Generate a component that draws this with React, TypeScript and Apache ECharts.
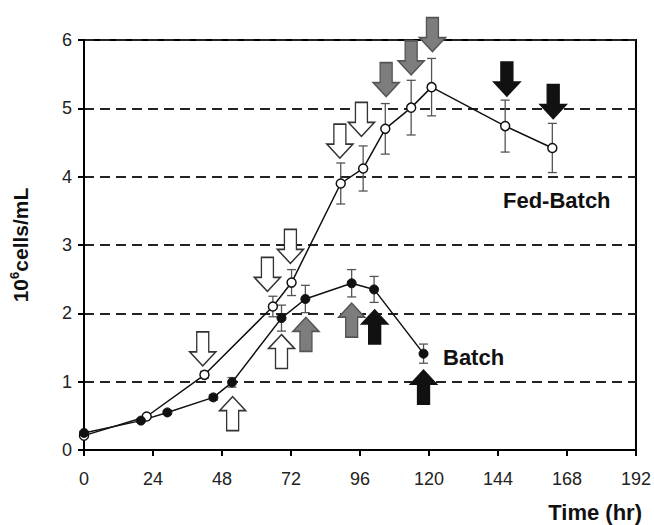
import React, { useEffect, useRef } from "react";
import * as echarts from "echarts";

// ---- data ----
const xTicks = { min: 0, max: 192, interval: 24 };
const yTicks = { min: 0, max: 6, interval: 1 };

const fedX = [0, 21.8, 41.9, 65.7, 72.2, 89.3, 97.1, 104.8, 113.8, 120.9, 146.5, 162.9];
const fedY = [0.21, 0.49, 1.1, 2.1, 2.45, 3.9, 4.12, 4.7, 5.01, 5.31, 4.74, 4.42];
const fedErr = [0.02, 0.02, 0.05, 0.15, 0.19, 0.3, 0.33, 0.37, 0.4, 0.42, 0.38, 0.36];

const batchX = [0, 19.8, 29.0, 45.0, 51.5, 68.7, 77.0, 93.1, 100.9, 118.1];
const batchY = [0.25, 0.43, 0.55, 0.77, 0.99, 1.93, 2.21, 2.44, 2.35, 1.41];
const batchErr = [0.02, 0.02, 0.03, 0.04, 0.07, 0.19, 0.2, 0.2, 0.19, 0.14];

// arrow tip positions [time, value]
const downWhite = [[41.3, 1.23], [63.8, 2.32], [71.8, 2.73], [89, 4.27], [96.5, 4.59]];
const downGray = [[105.1, 5.17], [113.8, 5.49], [121.2, 5.83]];
const downBlack = [[147.1, 5.18], [163.2, 4.85]];
const upWhite = [[51.7, 0.78], [68.7, 1.69]];
const upGray = [[77.2, 1.94], [93.1, 2.15]];
const upBlack = [[101.1, 2.05], [118.1, 1.17]];

const FONT = "'Liberation Sans', Arial, sans-serif";
const DOWN = "path://M7,0 L19,0 L19,20 L26,20 L13,34 L0,20 L7,20 Z";
const UP = "path://M13,0 L26,14 L19,14 L19,34 L7,34 L7,14 L0,14 Z";

function arrowSeries(data: number[][], up: boolean, fill: string, stroke: string) {
  return {
    type: "scatter",
    data,
    symbol: up ? UP : DOWN,
    symbolSize: [26, 34],
    symbolOffset: [0, up ? 17 : -17],
    clip: false,
    silent: true,
    z: 1,
    itemStyle: { color: fill, borderColor: stroke, borderWidth: 1.5, opacity: 1 },
  };
}

function errSeries(xs: number[], ys: number[], es: number[]) {
  return {
    type: "custom",
    z: 2,
    silent: true,
    data: xs.map((x, i) => [x, ys[i], es[i]]),
    encode: { x: 0, y: 1 },
    renderItem: (_p: any, api: any) => {
      const x = api.value(0);
      const y = api.value(1);
      const e = api.value(2);
      const t = api.coord([x, y + e]);
      const b = api.coord([x, y - e]);
      const hw = 4.5;
      const st = { stroke: "#555", lineWidth: 1.3 };
      return {
        type: "group",
        children: [
          { type: "line", shape: { x1: t[0], y1: t[1], x2: b[0], y2: b[1] }, style: st },
          { type: "line", shape: { x1: t[0] - hw, y1: t[1], x2: t[0] + hw, y2: t[1] }, style: st },
          { type: "line", shape: { x1: b[0] - hw, y1: b[1], x2: b[0] + hw, y2: b[1] }, style: st },
        ],
      };
    },
  };
}

export default function App() {
  const ref = useRef<HTMLDivElement>(null);
  useEffect(() => {
    const chart = echarts.init(ref.current!, undefined, { renderer: "svg" });
    chart.setOption({
      animation: false,
      backgroundColor: "#fff",
      grid: { left: 80, right: 17, top: 40, bottom: 75, show: true, borderColor: "#000", borderWidth: 2 },
      xAxis: {
        type: "value",
        ...xTicks,
        axisLine: { lineStyle: { color: "#000", width: 2 } },
        axisTick: { show: true, length: 6, lineStyle: { color: "#000", width: 2 } },
        axisLabel: { fontSize: 18, color: "#222", margin: 20, fontFamily: FONT },
        splitLine: { show: false },
      },
      yAxis: {
        type: "value",
        ...yTicks,
        name: "{a|10}{s|6}{a|cells/mL}",
        nameLocation: "middle",
        nameGap: 52,
        nameRotate: 90,
        nameTextStyle: {
          rich: {
            a: { fontSize: 21, fontWeight: "bold", fontFamily: FONT, color: "#111", lineHeight: 24 },
            s: { fontSize: 13, fontWeight: "bold", fontFamily: FONT, color: "#111", verticalAlign: "top", lineHeight: 24 },
          },
        },
        axisLine: { lineStyle: { color: "#000", width: 2 } },
        axisTick: { show: true, length: 6, lineStyle: { color: "#000", width: 2 } },
        axisLabel: { fontSize: 18, color: "#222", margin: 12, fontFamily: FONT },
        splitLine: { show: true, lineStyle: { color: "#222", width: 2, type: [10, 6] } },
      },
      graphic: [
        { type: "text", x: 503, y: 200, style: { text: "Fed-Batch", fill: "#111", font: `bold 22px ${FONT}`, align: "left", verticalAlign: "middle" } },
        { type: "text", x: 443, y: 357, style: { text: "Batch", fill: "#111", font: `bold 22px ${FONT}`, align: "left", verticalAlign: "middle" } },
        { type: "text", x: 642, y: 512, style: { text: "Time (hr)", fill: "#111", font: `bold 22px ${FONT}`, align: "right", verticalAlign: "middle" } },
      ],
      series: [
        arrowSeries(downWhite, false, "#fff", "#333"),
        arrowSeries(downGray, false, "#7d7d7d", "#555"),
        arrowSeries(downBlack, false, "#111", "#111"),
        arrowSeries(upWhite, true, "#fff", "#333"),
        arrowSeries(upGray, true, "#7d7d7d", "#555"),
        arrowSeries(upBlack, true, "#111", "#111"),
        errSeries(fedX, fedY, fedErr),
        errSeries(batchX, batchY, batchErr),
        {
          name: "Fed-Batch",
          type: "line",
          z: 3,
          data: fedX.map((x, i) => [x, fedY[i]]),
          symbol: "circle",
          symbolSize: 9,
          lineStyle: { color: "#111", width: 1.5 },
          itemStyle: { color: "#fff", borderColor: "#111", borderWidth: 1.5 },
        },
        {
          name: "Batch",
          type: "line",
          z: 3,
          data: batchX.map((x, i) => [x, batchY[i]]),
          symbol: "circle",
          symbolSize: 9,
          lineStyle: { color: "#111", width: 1.5 },
          itemStyle: { color: "#111", borderColor: "#111", borderWidth: 1 },
        },
      ],
    });
    return () => chart.dispose();
  }, []);
  return <div ref={ref} style={{ position: "fixed", left: 0, top: 0, width: 654, height: 525 }} />;
}
